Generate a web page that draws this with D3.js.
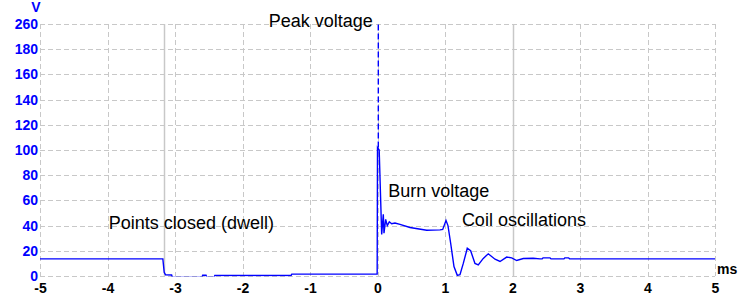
<!DOCTYPE html>
<html>
<head>
<meta charset="utf-8">
<script src="https://cdn.jsdelivr.net/npm/d3@7"></script>
<style>
  body { margin: 0; background: #fff; }
  text { font-family: "Liberation Sans", Arial, sans-serif; }
</style>
</head>
<body>
<div id="chart"></div>
<script>
// Trace samples: time (ms) and voltage (V)
const traceT = [-5, -3.18, -3.16, -3.14, -3.05, -3.04, -2.60, -2.59, -2.54, -2.53, -2.42, -2.41, -1.28, -1.27, -0.005,
  0.0, 0.025, 0.062, 0.086, 0.096, 0.121, 0.145, 0.175, 0.21, 0.259, 0.333, 0.481, 0.729, 0.926, 0.966,
  1.015, 1.044, 1.084, 1.133, 1.182, 1.222, 1.271, 1.33, 1.38, 1.444, 1.493, 1.567, 1.641, 1.741, 1.815,
  1.914, 1.988, 2.062, 2.16, 2.307, 2.407, 2.44, 2.452, 2.556, 2.57, 2.763, 2.775, 2.83, 2.845, 5];
const traceV = [13.6, 13.6, 3, 1, 0.8, -1, -1, 0.6, 0.6, -1, -1, 0.4, 0.4, 1.5, 1.5,
  102, 100, 33, 49, 34, 45, 40, 43, 41.5, 42, 41, 38.5, 36.3, 36.6, 37,
  44, 40, 26, 7.5, 0.5, 1, 10, 22, 20, 10, 8.8, 14, 17.6, 13.3, 11.5,
  15, 14.4, 12.3, 13.9, 14.1, 13.6, 13.6, 14.4, 14.4, 13.6, 13.6, 14.4, 14.4, 13.6, 13.6];

// off-scale part of the spark spike
const peakT = 0.012;
const peakV = [102, 200];

// solid cursor lines
const markerT = [-3.17, 2.0];

const xTicks = [-5, -4, -3, -2, -1, 0, 1, 2, 3, 4, 5];
const yTicks = [0, 20, 40, 60, 80, 100, 120, 140, 160, 180, 200];
const yTickLabels = ["0", "20", "40", "60", "80", "100", "120", "140", "160", "180", "260"];

const notes = [
  { t: -3.98, v: 37.5, text: "Points closed (dwell)" },
  { t: -1.61, v: 197.5, text: "Peak voltage" },
  { t: 0.16, v: 63, text: "Burn voltage" },
  { t: 1.25, v: 39.5, text: "Coil oscillations" }
];

const width = 739, height = 302;
const margin = { top: 24, right: 24, bottom: 26, left: 40 };

const svg = d3.select("#chart").append("svg")
  .attr("width", width)
  .attr("height", height);

const x = d3.scaleLinear().domain([-5, 5]).range([margin.left, width - margin.right]);
const y = d3.scaleLinear().domain([0, 200]).range([height - margin.bottom, margin.top]);

// grid
const grid = svg.append("g")
  .attr("stroke", "#c8c8c8")
  .attr("stroke-width", 1)
  .attr("stroke-dasharray", "5,3");
grid.selectAll(".gx").data(xTicks).enter().append("line")
  .attr("x1", d => Math.round(x(d)) + 0.5).attr("x2", d => Math.round(x(d)) + 0.5)
  .attr("y1", y(200)).attr("y2", y(0));
grid.selectAll(".gy").data(yTicks).enter().append("line")
  .attr("y1", d => Math.round(y(d)) + 0.5).attr("y2", d => Math.round(y(d)) + 0.5)
  .attr("x1", x(-5)).attr("x2", x(5));

// cursors
svg.append("g").selectAll("line").data(markerT).enter().append("line")
  .attr("x1", d => Math.round(x(d)) + 0.5).attr("x2", d => Math.round(x(d)) + 0.5)
  .attr("y1", y(200)).attr("y2", y(0))
  .attr("stroke", "#c8c8c8").attr("stroke-width", 1.5);

// axes tick labels
const xAxis = svg.append("g")
  .attr("transform", "translate(0," + (height - margin.bottom) + ")")
  .call(d3.axisBottom(x).tickValues(xTicks).tickSize(0).tickPadding(7).tickFormat(d => String(d)));
xAxis.select(".domain").remove();
xAxis.selectAll("text")
  .style("font-size", "14px").style("font-weight", "bold").attr("fill", "#000");

const yAxis = svg.append("g")
  .attr("transform", "translate(" + (margin.left - 2) + ",0)")
  .call(d3.axisLeft(y).tickValues(yTicks).tickSize(0).tickPadding(0)
    .tickFormat((d, i) => yTickLabels[i]));
yAxis.select(".domain").remove();
yAxis.selectAll("text")
  .style("font-size", "14px").style("font-weight", "bold").attr("fill", "#0000ff");

svg.append("text")
  .attr("x", 36).attr("y", 12)
  .attr("text-anchor", "middle")
  .style("font-size", "14px").style("font-weight", "bold")
  .attr("fill", "#0000ff")
  .text("V");

svg.append("text")
  .attr("x", 717).attr("y", 274)
  .style("font-size", "14px").style("font-weight", "bold")
  .attr("fill", "#000")
  .text("ms");

// clip trace to plot area
svg.append("clipPath").attr("id", "plot")
  .append("rect")
  .attr("x", x(-5)).attr("y", y(200))
  .attr("width", x(5) - x(-5)).attr("height", y(0) - y(200) + 0.5);

const trace = traceT.map((t, i) => [t, traceV[i]]);
const line = d3.line().x(d => x(d[0])).y(d => y(d[1]));

svg.append("path")
  .datum(trace)
  .attr("clip-path", "url(#plot)")
  .attr("fill", "none")
  .attr("stroke", "#0000ff")
  .attr("stroke-width", 1.4)
  .attr("d", line);

svg.append("line")
  .attr("x1", x(peakT)).attr("x2", x(peakT))
  .attr("y1", y(peakV[0])).attr("y2", y(peakV[1]))
  .attr("stroke", "#0000ff")
  .attr("stroke-width", 1.4)
  .attr("stroke-dasharray", "6,3");

// annotations
svg.append("g").selectAll("text").data(notes).enter().append("text")
  .attr("x", d => x(d.t))
  .attr("y", d => y(d.v))
  .style("font-size", "18px")
  .attr("fill", "#000")
  .text(d => d.text);
</script>
</body>
</html>
